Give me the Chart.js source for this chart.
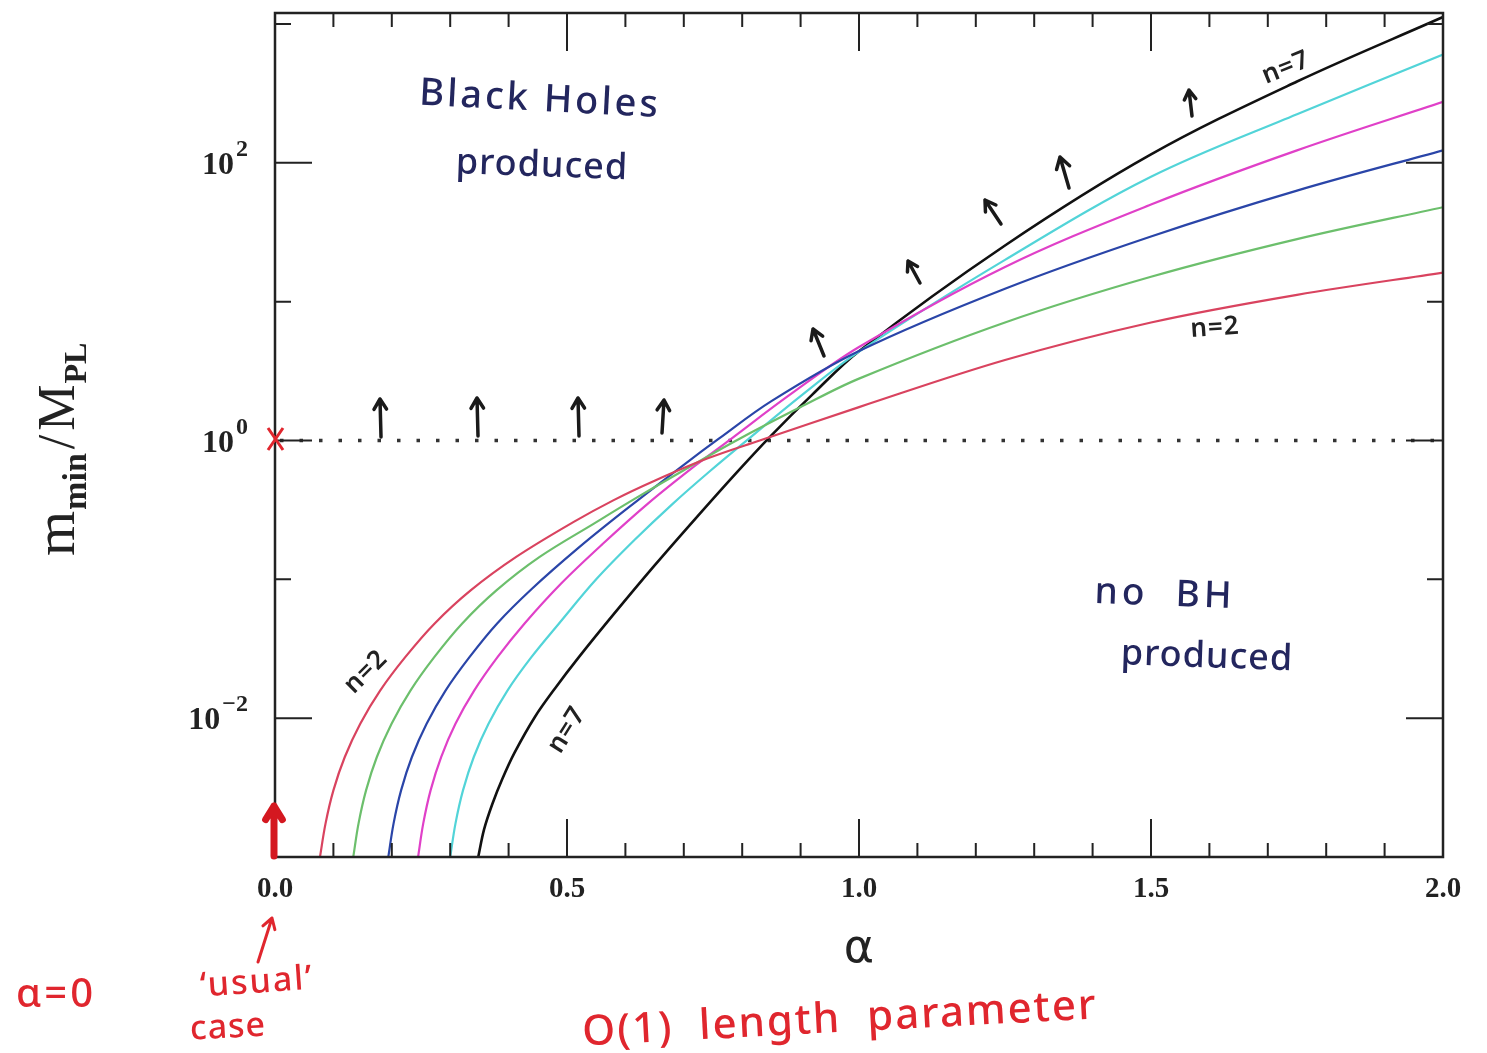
<!DOCTYPE html>
<html>
<head>
<meta charset="utf-8">
<script src="https://cdn.jsdelivr.net/npm/chart.js@4.4.1/dist/chart.umd.min.js"></script>
<style>
  html, body { margin: 0; padding: 0; background: #fff; }
  #wrap { width: 1487px; height: 1053px; }
</style>
</head>
<body>
<div id="wrap"><canvas id="massChart"></canvas></div>
<script>
// m_min / M_PL against alpha, one curve per number of extra dimensions n
var alphaN2 = [0.077, 0.0865, 0.100, 0.1195, 0.146, 0.180, 0.223, 0.273, 0.335, 0.413, 0.51, 0.58, 0.65, 0.74, 0.83, 1.00, 1.25, 1.50, 1.75, 2.00];
var massN2  = [0.001, 0.00174, 0.00302, 0.00525, 0.00912, 0.0158, 0.0275, 0.0479, 0.0832, 0.145, 0.257, 0.372, 0.513, 0.741, 1.0, 1.74, 3.80, 7.08, 11.2, 16.2];

var alphaN3 = [0.134, 0.143, 0.1559, 0.1744, 0.1996, 0.2319, 0.2727, 0.3202, 0.3791, 0.4532, 0.5454, 0.62, 0.70, 0.79, 0.90, 1.00, 1.25, 1.50, 1.75, 2.00];
var massN3  = [0.001, 0.00174, 0.00302, 0.00525, 0.00912, 0.0158, 0.0275, 0.0479, 0.0832, 0.145, 0.251, 0.389, 0.611, 1.0, 1.74, 2.79, 7.08, 15.1, 28.2, 47.9];

var alphaN4 = [0.194, 0.203, 0.2159, 0.2344, 0.2596, 0.292, 0.333, 0.380, 0.44, 0.52, 0.60, 0.70, 0.76, 0.85, 1.00, 1.25, 1.50, 1.75, 2.00];
var massN4  = [0.001, 0.00174, 0.00302, 0.00525, 0.00912, 0.0158, 0.0275, 0.0479, 0.0855, 0.169, 0.316, 0.668, 1.03, 1.92, 4.41, 12.4, 29.5, 63.1, 123];

var alphaN5 = [0.245, 0.2538, 0.2664, 0.2845, 0.309, 0.341, 0.381, 0.427, 0.49, 0.56, 0.64, 0.72, 0.78, 0.88, 1.00, 1.25, 1.50, 1.75, 2.00];
var massN5  = [0.001, 0.00174, 0.00302, 0.00525, 0.00912, 0.0158, 0.0275, 0.0479, 0.0933, 0.178, 0.355, 0.661, 1.02, 2.11, 4.71, 17.8, 50.1, 123, 275];

var alphaN6 = [0.30, 0.309, 0.3219, 0.3404, 0.3656, 0.398, 0.439, 0.486, 0.55, 0.615, 0.68, 0.745, 0.81, 0.90, 1.00, 1.25, 1.50, 1.75, 2.00];
var massN6  = [0.001, 0.00174, 0.00302, 0.00525, 0.00912, 0.0158, 0.0275, 0.0479, 0.100, 0.191, 0.347, 0.603, 1.02, 2.09, 4.37, 20.0, 79.4, 224, 603];

var alphaN7 = [0.348, 0.358, 0.372, 0.389, 0.41, 0.445, 0.48, 0.52, 0.58, 0.65, 0.72, 0.79, 0.85, 0.92, 1.00, 1.25, 1.50, 1.75, 2.00];
var massN7  = [0.001, 0.00158, 0.0024, 0.00363, 0.00562, 0.0102, 0.0165, 0.0274, 0.0561, 0.126, 0.274, 0.585, 1.09, 2.14, 4.40, 25.4, 115, 385, 1122];

var seriesNames  = ['n=2', 'n=3', 'n=4', 'n=5', 'n=6', 'n=7'];
var seriesColors = ['#d9435f', '#6cbf6c', '#2a45a8', '#e040c8', '#52d4d8', '#111111'];

// threshold line at m = M_PL
var thresholdAlpha = [0, 2];
var thresholdMass  = [1, 1];

var xMin = 0, xMax = 2;
var yMin = 0.001, yMax = 1200;
var xTickLabels = [0, 0.5, 1.0, 1.5, 2.0];
var xMinorTicks = [0.1, 0.2, 0.3, 0.4, 0.6, 0.7, 0.8, 0.9, 1.1, 1.2, 1.3, 1.4, 1.6, 1.7, 1.8, 1.9];
var yTickLabels = [1e-2, 1, 1e2];
var yTickExps   = ['\u22122', '0', '2'];
var yMinorTicks = [1e-3, 1e-1, 10, 1e3];

function toPoints(xs, ys) {
  return xs.map(function (x, i) { return { x: x, y: ys[i] }; });
}

var allAlpha = [alphaN2, alphaN3, alphaN4, alphaN5, alphaN6, alphaN7];
var allMass  = [massN2, massN3, massN4, massN5, massN6, massN7];

var datasets = allAlpha.map(function (xs, i) {
  return {
    label: seriesNames[i],
    data: toPoints(xs, allMass[i]),
    borderColor: seriesColors[i],
    borderWidth: i == 5 ? 2.6 : 2.2,
    pointRadius: 0,
    tension: 0.35,
    fill: false
  };
});

datasets.push({
  label: 'threshold',
  data: toPoints(thresholdAlpha, thresholdMass),
  borderColor: '#333',
  borderWidth: 3.5,
  borderDash: [3.5, 16],
  borderDashOffset: -5,
  pointRadius: 0,
  tension: 0,
  fill: false
});

// hand drawn style helpers
function arrow(ctx, x0, y0, x1, y1, head, width, color) {
  var ang = Math.atan2(y1 - y0, x1 - x0);
  ctx.save();
  ctx.strokeStyle = color;
  ctx.lineWidth = width;
  ctx.lineCap = 'round';
  ctx.lineJoin = 'round';
  ctx.beginPath();
  ctx.moveTo(x0, y0);
  ctx.lineTo(x1, y1);
  ctx.moveTo(x1 - head * Math.cos(ang - 0.55), y1 - head * Math.sin(ang - 0.55));
  ctx.lineTo(x1, y1);
  ctx.lineTo(x1 - head * Math.cos(ang + 0.55), y1 - head * Math.sin(ang + 0.55));
  ctx.stroke();
  ctx.restore();
}

function note(ctx, text, x, y, font, color, rot, spacing) {
  ctx.save();
  ctx.translate(x, y);
  ctx.rotate((rot || 0) * Math.PI / 180);
  ctx.font = font;
  ctx.letterSpacing = (spacing || 0) + 'px';
  ctx.fillStyle = color;
  ctx.textAlign = 'center';
  ctx.textBaseline = 'middle';
  ctx.fillText(text, 0, 0);
  ctx.restore();
}

var framePlugin = {
  id: 'frame',
  afterDraw: function (chart) {
    var ctx = chart.ctx;
    var a = chart.chartArea;
    var xs = chart.scales.x, ys = chart.scales.y;

    ctx.save();
    ctx.strokeStyle = '#222';
    ctx.lineWidth = 2.5;
    ctx.strokeRect(a.left, a.top, a.right - a.left, a.bottom - a.top);

    // ticks point into the plot on all four sides
    ctx.lineWidth = 2;
    ctx.beginPath();
    xTickLabels.forEach(function (v) {
      var px = xs.getPixelForValue(v);
      ctx.moveTo(px, a.bottom); ctx.lineTo(px, a.bottom - 38);
      ctx.moveTo(px, a.top); ctx.lineTo(px, a.top + 38);
    });
    xMinorTicks.forEach(function (v) {
      var px = xs.getPixelForValue(v);
      ctx.moveTo(px, a.bottom); ctx.lineTo(px, a.bottom - 14);
      ctx.moveTo(px, a.top); ctx.lineTo(px, a.top + 14);
    });
    yTickLabels.forEach(function (v) {
      var py = ys.getPixelForValue(v);
      ctx.moveTo(a.left, py); ctx.lineTo(a.left + 37, py);
      ctx.moveTo(a.right, py); ctx.lineTo(a.right - 37, py);
    });
    yMinorTicks.forEach(function (v) {
      var py = ys.getPixelForValue(v);
      ctx.moveTo(a.left, py); ctx.lineTo(a.left + 16, py);
      ctx.moveTo(a.right, py); ctx.lineTo(a.right - 16, py);
    });
    ctx.stroke();

    // tick labels
    ctx.fillStyle = '#222';
    ctx.textBaseline = 'middle';
    ctx.textAlign = 'center';
    ctx.font = 'bold 29px "Liberation Serif"';
    xTickLabels.forEach(function (v) {
      ctx.fillText(v.toFixed(1), xs.getPixelForValue(v), a.bottom + 33);
    });
    yTickLabels.forEach(function (v, i) {
      var py = ys.getPixelForValue(v);
      ctx.font = 'bold 24px "Liberation Serif"';
      var ew = ctx.measureText(yTickExps[i]).width;
      ctx.textAlign = 'right';
      ctx.fillText(yTickExps[i], a.left - 27, py - 13);
      ctx.font = 'bold 32px "Liberation Serif"';
      ctx.fillText('10', a.left - 29 - ew, py + 3);
    });

    // axis titles
    note(ctx, '\u03b1', xs.getPixelForValue(1.0), a.bottom + 93, '46px "DejaVu Sans"', '#222', 0);
    ctx.save();
    ctx.translate(60, 436);
    ctx.rotate(-Math.PI / 2);
    ctx.textBaseline = 'alphabetic';
    ctx.textAlign = 'left';
    ctx.fillStyle = '#222';
    var x0 = -120;
    ctx.font = '58px "Liberation Serif"';
    ctx.fillText('m', x0, 14); x0 += ctx.measureText('m').width + 1;
    ctx.font = 'bold 34px "Liberation Serif"';
    ctx.fillText('min', x0, 26); x0 += ctx.measureText('min').width + 4;
    ctx.font = '52px "Liberation Serif"';
    ctx.fillText('/', x0, 14); x0 += ctx.measureText('/').width + 4;
    ctx.fillText('M', x0, 14); x0 += ctx.measureText('M').width + 1;
    ctx.font = 'bold 32px "Liberation Serif"';
    ctx.fillText('PL', x0, 26);
    ctx.restore();

    // handwritten notes
    var navy = '#23265e';
    var hand = '"Noto Sans"';
    note(ctx, 'Black Holes', 540, 100, '500 38px ' + hand, navy, 3, 3);
    note(ctx, 'produced', 542, 166, '500 36px ' + hand, navy, 2, 1);
    note(ctx, 'no  BH', 1165, 595, '500 37px ' + hand, navy, 2, 4);
    note(ctx, 'produced', 1207, 657, '500 36px ' + hand, navy, 2, 1);
    note(ctx, 'n=2', 366, 672, '600 26px ' + hand, '#222', -45, 1);
    note(ctx, 'n=7', 567, 730, '600 26px ' + hand, '#222', -58, 1);
    note(ctx, 'n=7', 1286, 68, '600 26px ' + hand, '#222', -22, 1);
    note(ctx, 'n=2', 1215, 328, '600 26px ' + hand, '#222', -4, 1);

    var ink = '#1a1a1a';
    arrow(ctx, 381, 437, 380, 399, 12, 3.5, ink);
    arrow(ctx, 478, 436, 477, 398, 12, 3.5, ink);
    arrow(ctx, 579, 436, 578, 398, 12, 3.5, ink);
    arrow(ctx, 662, 433, 664, 400, 12, 3.5, ink);
    arrow(ctx, 824, 356, 813, 329, 12, 3.5, ink);
    arrow(ctx, 920, 283, 908, 261, 11, 3.5, ink);
    arrow(ctx, 1001, 224, 985, 200, 12, 3.5, ink);
    arrow(ctx, 1069, 188, 1060, 157, 13, 3.5, ink);
    arrow(ctx, 1192, 116, 1189, 90, 11, 3.5, ink);

    // red marks on the alpha = 0 axis
    var red = '#e0262e';
    ctx.strokeStyle = red;
    ctx.lineWidth = 3;
    ctx.beginPath();
    ctx.moveTo(268, 428); ctx.lineTo(283, 450);
    ctx.moveTo(283, 428); ctx.lineTo(268, 450);
    ctx.stroke();
    arrow(ctx, 274, 856, 274, 806, 16, 7, '#d41820');
    arrow(ctx, 258, 962, 272, 918, 12, 3, red);

    note(ctx, '\u03b1=0', 56, 996, '500 40px ' + hand, red, 0, 3);
    note(ctx, '\u2018usual\u2019', 257, 983, '500 34px ' + hand, red, -4, 2);
    note(ctx, 'case', 228, 1028, '500 34px ' + hand, red, -3, 1);
    note(ctx, 'O(1)  length  parameter', 840, 1020, '500 42px ' + hand, red, -3, 2);
    ctx.restore();
  }
};

var chartCtx = document.getElementById('massChart');
var massChart = new Chart(chartCtx, {
  type: 'line',
  data: { datasets: datasets },
  options: {
    responsive: true,
    maintainAspectRatio: false,
    animation: false,
    layout: { padding: { left: 275, right: 44, top: 13, bottom: 196 } },
    plugins: { legend: { display: false }, tooltip: { enabled: false } },
    scales: {
      x: { type: 'linear', min: xMin, max: xMax, display: false },
      y: { type: 'logarithmic', min: yMin, max: yMax, display: false }
    }
  },
  plugins: [framePlugin]
});
</script>
</body>
</html>
